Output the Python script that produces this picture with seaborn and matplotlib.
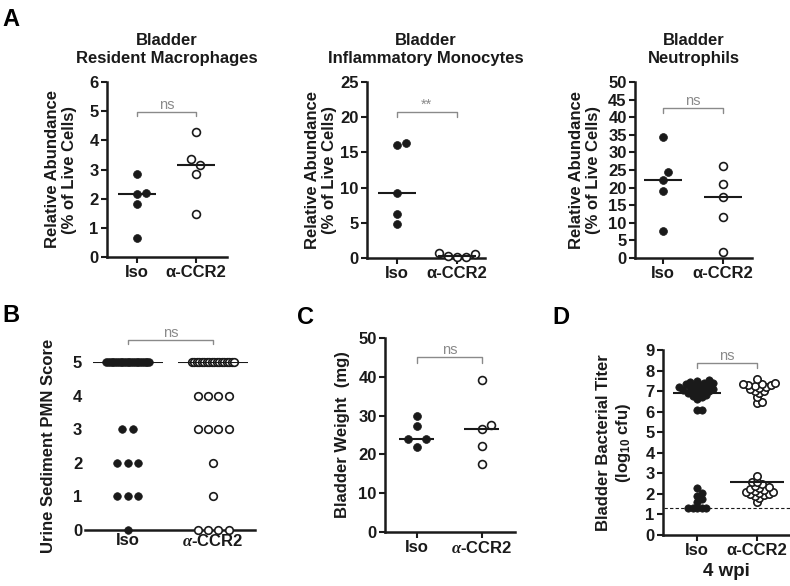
import numpy as np
import pandas as pd
import matplotlib
matplotlib.use("Agg")
import matplotlib.pyplot as plt
import seaborn as sns

# ---- data ----
groups = ["Iso", "α-CCR2"]

# A: relative abundance (% of live cells)
mac_iso = [2.83, 2.19, 2.15, 1.82, 0.64]
mac_ccr2 = [4.29, 3.37, 3.14, 2.85, 1.46]
mono_iso = [16.1, 16.3, 9.3, 6.2, 4.9]
mono_ccr2 = [0.7, 0.3, 0.1, 0.2, 0.5]
neut_iso = [34.5, 24.5, 22.2, 19.1, 7.7]
neut_ccr2 = [26.2, 20.9, 17.3, 11.6, 1.8]

# B: urine sediment PMN score, number of mice per score
pmn_scores = [0, 1, 2, 3, 4, 5]
pmn_iso_counts = [1, 3, 3, 2, 0, 25]
pmn_ccr2_counts = [4, 1, 1, 4, 4, 18]

# C: bladder weight (mg)
weight_iso = [29.8, 27.4, 24.0, 23.9, 22.0]
weight_ccr2 = [39.3, 27.5, 26.6, 22.2, 17.4]

# D: bladder titer (log10 cfu), 4 wpi
titer_iso = [6.1, 6.1, 6.6, 6.7, 6.75, 6.8, 6.85, 6.9, 6.95, 7.0, 7.0, 7.05, 7.1,
             7.1, 7.15, 7.2, 7.2, 7.25, 7.3, 7.3, 7.35, 7.4, 7.4, 7.45, 7.5, 7.55,
             1.3, 1.3, 1.3, 1.3, 1.3, 1.6, 1.75, 1.9, 2.05, 2.3]
titer_ccr2 = [6.4, 6.45, 6.7, 6.9, 7.0, 7.0, 7.1, 7.15, 7.2, 7.25, 7.3, 7.3, 7.35,
              7.35, 7.4, 7.6,
              1.6, 1.8, 1.9, 1.95, 2.0, 2.0, 2.05, 2.1, 2.1, 2.15, 2.2, 2.25, 2.3,
              2.35, 2.4, 2.5, 2.6, 2.6, 2.85]
detect_limit = 1.3

sns.set_style("ticks")
plt.rcParams["font.family"] = ["Liberation Sans", "DejaVu Sans"]
plt.rcParams["font.weight"] = "bold"
plt.rcParams["mathtext.fontset"] = "custom"
plt.rcParams["mathtext.rm"] = "Liberation Sans"
plt.rcParams["mathtext.bf"] = "Liberation Sans:bold"
plt.rcParams["mathtext.it"] = "Liberation Serif:italic"
plt.rcParams["mathtext.default"] = "bf"

INK = "#1a1a1a"
GREY = "#8a8a8a"
W, H = 790, 586
fig = plt.figure(figsize=(W / 100, H / 100), dpi=100)


def add_px(left, top, right, bottom):
    return fig.add_axes([left / W, 1 - bottom / H, (right - left) / W, (bottom - top) / H])


def swarm_x(vals, center, px_x, px_y, gap):
    # simple beeswarm: shift a point sideways until it clears the ones already placed
    vals = np.asarray(vals, float)
    xs = np.zeros(len(vals))
    placed = []
    for i in np.argsort(vals):
        y = vals[i] * px_y
        k = 0
        while True:
            off = ((k + 1) // 2) * (gap / 2) * (1 if k % 2 else -1)
            if all((off - px) ** 2 + (y - py) ** 2 >= gap ** 2 for px, py in placed):
                break
            k += 1
        placed.append((off, y))
        xs[i] = center + off / px_x
    return xs


def grid_x(scores, counts, center, step, maxw):
    xs, ys = [], []
    for s, n in zip(scores, counts):
        if n == 0:
            continue
        st = step if n == 1 else min(step, maxw / (n - 1))
        xs += list(center + (np.arange(n) - (n - 1) / 2) * st)
        ys += [s] * n
    return np.array(xs), np.array(ys)


def dots(ax, x, y, filled, size):
    df = pd.DataFrame({"x": x, "y": y})
    if filled:
        sns.scatterplot(data=df, x="x", y="y", ax=ax, s=size, color=INK,
                        edgecolor=INK, linewidth=0.5, clip_on=False, zorder=3)
    else:
        sns.scatterplot(data=df, x="x", y="y", ax=ax, s=size, color="white",
                        edgecolor=INK, linewidth=1.2, clip_on=False, zorder=3)


def median_line(ax, vals, center, half):
    ax.hlines(np.median(vals), center - half, center + half, color=INK, lw=1.5, zorder=4)


def bracket(ax, y, h, label):
    ax.plot([0, 0, 1, 1], [y - h, y, y, y - h], color=GREY, lw=1, clip_on=False)
    ax.text(0.5, y, label, ha="center", va="bottom", color=GREY, fontsize=10.5,
            fontweight="normal", clip_on=False)


def style(ax, ylim, yticks, xlim, labels, ylabel, labelpad, spine=True):
    ax.set_ylim(*ylim)
    ax.set_yticks(yticks)
    ax.set_xlim(*xlim)
    ax.set_xticks([0, 1])
    ax.set_xticklabels(labels)
    ax.set_xlabel("")
    ax.set_ylabel(ylabel, fontsize=12, fontweight="bold", color=INK, labelpad=labelpad)
    sns.despine(ax=ax, left=not spine)
    for s in ("left", "bottom"):
        ax.spines[s].set_linewidth(1.8)
        ax.spines[s].set_color(INK)
    ax.tick_params(labelsize=12, colors=INK, width=1.5, length=4 if spine else 0, pad=2)
    for t in ax.get_xticklabels() + ax.get_yticklabels():
        t.set_fontweight("bold")


# ---- panel A ----
a_panels = [
    ((107, 82, 227, 257), mac_iso, mac_ccr2, (0, 6), range(0, 7), (-0.51, 1.53),
     "Bladder\nResident Macrophages", 4.96, 0.12, "ns", 59, 9),
    ((367, 82, 485, 258), mono_iso, mono_ccr2, (0, 25), range(0, 26, 5), (-0.5, 1.47),
     "Bladder\nInflammatory Monocytes", 20.75, 0.7, "**", 60, 2),
    ((635, 82, 752, 258), neut_iso, neut_ccr2, (0, 50), range(0, 51, 5), (-0.47, 1.48),
     "Bladder\nNeutrophils", 42.7, 1.4, "ns", 60, 5),
]
for box, iso, ccr2, ylim, yt, xlim, title, by, bh, sig, px_x, lp in a_panels:
    ax = add_px(*box)
    px_y = (box[3] - box[1]) / (ylim[1] - ylim[0])
    dots(ax, swarm_x(iso, 0, px_x, px_y, 9), iso, True, 32)
    dots(ax, swarm_x(ccr2, 1, px_x, px_y, 9), ccr2, False, 32)
    median_line(ax, iso, 0, 0.32)
    median_line(ax, ccr2, 1, 0.32)
    style(ax, ylim, yt, xlim, groups, "Relative Abundance\n(% of Live Cells)", lp)
    bracket(ax, by, bh, sig)
    ax.set_title(title, fontsize=12, fontweight="bold", color=INK, pad=14)

# ---- panel B ----
ax = add_px(85, 362, 255, 530)
bx, by_ = grid_x(pmn_scores, pmn_iso_counts, 0, 0.125, 0.5)
dots(ax, bx, by_, True, 30)
cx, cy = grid_x(pmn_scores, pmn_ccr2_counts, 1, 0.12, 0.5)
dots(ax, cx, cy, False, 30)
median_line(ax, np.repeat(pmn_scores, pmn_iso_counts), 0, 0.41)
median_line(ax, np.repeat(pmn_scores, pmn_ccr2_counts), 1, 0.41)
style(ax, (0, 5), range(0, 6), (-0.5, 1.49), ["Iso", r"$\mathit{\alpha}$-CCR2"],
      "Urine Sediment PMN Score", 12, spine=False)
bracket(ax, 5.65, 0.12, "ns")

# ---- panel C ----
ax = add_px(385, 338, 515, 532)
px_y = 194 / 50
dots(ax, swarm_x(weight_iso, 0, 65, px_y, 9), weight_iso, True, 32)
dots(ax, swarm_x(weight_ccr2, 1, 65, px_y, 9), weight_ccr2, False, 32)
median_line(ax, weight_iso, 0, 0.27)
median_line(ax, weight_ccr2, 1, 0.27)
style(ax, (0, 50), range(0, 51, 10), (-0.49, 1.51), ["Iso", r"$\mathit{\alpha}$-CCR2"],
      "Bladder Weight  (mg)", 6)
bracket(ax, 45.1, 1.6, "ns")

# ---- panel D ----
ax = add_px(663, 350, 790, 535)
px_y = 185 / 9
dots(ax, swarm_x(titer_iso, 0, 60, px_y, 4.6), titer_iso, True, 28)
dots(ax, swarm_x(titer_ccr2, 1, 60, px_y, 4.6), titer_ccr2, False, 28)
median_line(ax, titer_iso, 0, 0.4)
median_line(ax, titer_ccr2, 1, 0.45)
ax.hlines(detect_limit, -0.55, 1.55, color=INK, lw=0.8, linestyles=(0, (3, 2)), zorder=1)
style(ax, (0, 9), range(0, 10), (-0.57, 1.55), groups,
      "Bladder Bacterial Titer\n(log$_{10}$ cfu)", 9)
ax.set_xlabel("4 wpi", fontsize=13.5, fontweight="bold", color=INK, labelpad=3)
bracket(ax, 8.37, 0.25, "ns")

# panel letters
for letter, (x, y) in {"A": (2, 8), "B": (2, 304), "C": (297, 306), "D": (552, 306)}.items():
    fig.text(x / W, 1 - y / H, letter, fontsize=17, fontweight="bold", va="top", ha="left",
             color="black")

fig.savefig("out.png", dpi=100)
